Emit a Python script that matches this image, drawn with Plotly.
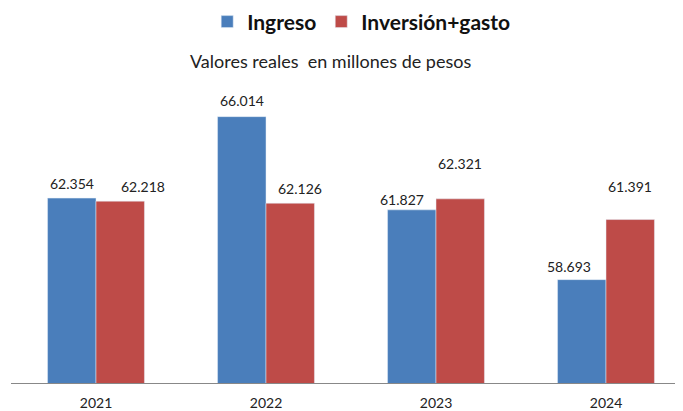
import plotly.graph_objects as go

years = ["2021", "2022", "2023", "2024"]
ingreso = [62.354, 66.014, 61.827, 58.693]
inversion_gasto = [62.218, 62.126, 62.321, 61.391]
ingreso_labels = ["62.354", "66.014", "61.827", "58.693"]
inversion_labels = ["62.218", "62.126", "62.321", "61.391"]

# label offsets (pixels) relative to the top of each bar
ingreso_label_dx = [0, 0, -10, -13]
ingreso_label_dy = [15, 16, 10, 13]
inversion_label_dx = [23, 10, 0, 0]
inversion_label_dy = [15, 15, 35, 33]

BLUE = "#4A7EBB"
RED = "#BE4B48"

fig = go.Figure()
fig.add_trace(go.Bar(x=years, y=ingreso, name="Ingreso", marker_color=BLUE,
                     offsetgroup="a"))
fig.add_trace(go.Bar(x=years, y=inversion_gasto, name="Inversión+gasto",
                     marker_color=RED, offsetgroup="b"))

bargap = 0.43
half = (1 - bargap) / 4  # centre offset of each bar within a category (in category units)

annotations = []
for i, yr in enumerate(years):
    annotations.append(dict(
        x=i - half, y=ingreso[i], xref="x", yref="y", text=ingreso_labels[i],
        showarrow=False, xshift=ingreso_label_dx[i], yshift=ingreso_label_dy[i],
        font=dict(size=14, family="Lato", color="#222222"),
    ))
    annotations.append(dict(
        x=i + half, y=inversion_gasto[i], xref="x", yref="y", text=inversion_labels[i],
        showarrow=False, xshift=inversion_label_dx[i], yshift=inversion_label_dy[i],
        font=dict(size=14, family="Lato", color="#222222"),
    ))

fig.update_layout(
    width=683, height=411,
    margin=dict(l=3, r=0, t=82, b=36),
    paper_bgcolor="white", plot_bgcolor="white",
    barmode="group", bargap=bargap, bargroupgap=0,
    font=dict(family="Lato", color="#222222"),
    showlegend=True,
    legend=dict(
        orientation="h", x=0.515, xanchor="center",
        yref="container", y=0.966, yanchor="middle",
        font=dict(size=21, family="Lato", weight="bold", color="#111111"),
        itemwidth=30, traceorder="normal",
    ),
    title=dict(
        text="Valores reales  en millones de pesos",
        x=0.47, xanchor="center", xref="paper",
        yref="container", y=0.869, yanchor="middle",
        font=dict(size=18, family="Lato", color="#222222"),
    ),
    xaxis=dict(
        type="category",
        range=[-0.5, 3.5], showline=True, linecolor="#888888", linewidth=1,
        ticks="", ticklabelstandoff=7,
        tickfont=dict(size=14, family="Lato", color="#222222"),
        showgrid=False,
    ),
    yaxis=dict(
        range=[54.05, 67.21], visible=False, showgrid=False, zeroline=False,
    ),
    annotations=annotations,
)

fig.write_html("out.html")
